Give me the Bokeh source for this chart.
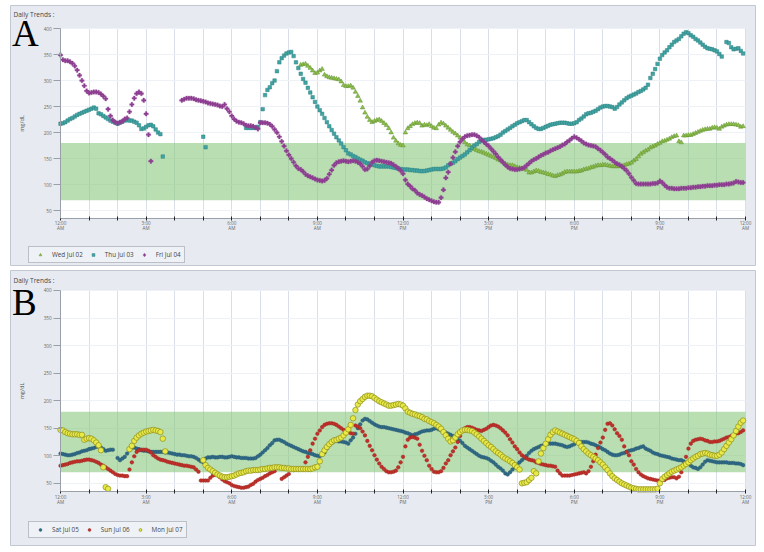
import numpy as np
from bokeh.plotting import figure
from bokeh.layouts import column
from bokeh.models import (Range1d, FixedTicker, BoxAnnotation, Label, Legend,
                          LegendItem, ColumnDataSource, LinearAxis)
from bokeh.embed import file_html
from bokeh.resources import INLINE

N = float("nan")

# time of each reading (minutes after midnight, 5-minute sampling)
MINUTES = list(range(0, 24 * 60, 5))
HOUR_TICKS = list(range(0, 25))
LABEL_HOURS = [0, 3, 6, 9, 12, 15, 18, 21, 24]
X_TICK_TIMES = ["12:00", "3:00", "6:00", "9:00", "12:00", "3:00", "6:00", "9:00", "12:00"]
X_TICK_MERIDIEM = ["AM", "AM", "AM", "AM", "PM", "PM", "PM", "PM", "AM"]
Y_TICKS = [50, 100, 150, 200, 250, 300, 350, 400]
Y_MIN, Y_MAX = 35, 400
TARGET_LOW, TARGET_HIGH = 70, 180

# ---------------- Panel A (mg/dL) ----------------
wed_jul02 = (
    [N] * 96 +
    [N, N, N, N, N, 330, 331, 332, 328, 324, 319, 314] +
    [315, 319, 322, 311, 308, 306, 305, 304, 303, 302, 298, 291] +
    [289, 289, 290, 286, 278, 270, 261, 248, 238, 230, 224, 220] +
    [222, 224, 225, 222, 218, 214, 208, 200, 190, 184, 179, 176] +
    [175, 200, 208, 212, 216, 218, 219, 218, 213, 215, 214, 216] +
    [212, 209, 208, 215, 219, 217, 213, 209, 205, 201, 198, 194] +
    [190, 186, 181, 177, 175, 171, 168, 166, 164, 163, 161, 159] +
    [157, 155, 153, 151, 148, 146, 143, 140, 138, 137, 137, 135] +
    [133, 132, 131, 130, 128, 123, 123, 125, 127, 126, 124, 123] +
    [122, 120, 119, 117, 116, 118, 119, 121, 124, 125, 125, 125] +
    [125, 125, 126, 127, 129, 130, 131, 133, 134, 136, 137, 137] +
    [138, 138, 137, 136, 135, 135, 135, 135, 136, 137, 139, 140] +
    [142, 146, 149, 154, 159, 162, 165, 167, 171, 173, 175, 178] +
    [180, 183, 184, 186, 188, 191, 193, 194, 183, 181, 194, 194] +
    [195, 195, 197, 199, 201, 203, 205, 206, 207, 207, 209, 210] +
    [209, 207, 211, 213, 215, 216, 216, 216, 215, 214, 211, 212]
)

thu_jul03 = (
    [217, 218, 220, 223, 226, 228, 231, 234, 236, 238, 240, 242] +
    [244, 246, 248, 246, 237, 235, 232, 229, 226, 223, 221, 219] +
    [217, 219, 221, 223, 224, 223, 223, 221, 219, 214, 207, 208] +
    [211, 214, 215, 212, 206, 200, 197, 154, N, N, N, N] +
    [N] * 12 +
    [192, 172, N, N, N, N, N, N, N, N, N, N] +
    [N, N, N, N, N, N, 209, 209, 209, 209, 209, 211] +
    [220, 245, 272, 282, 287, 295, 300, 318, 335, 343, 348, 352] +
    [354, 355, 347, 335, 324, 313, 303, 296, 286, 277, 268, 259] +
    [250, 243, 236, 228, 220, 212, 205, 198, 191, 185, 179, 172] +
    [166, 160, 158, 155, 153, 150, 148, 146, 143, 141, 140, 139] +
    [137, 136, 135, 135, 135, 135, 135, 134, 133, 132, 131, 130] +
    [129, 129, 129, 128, 128, 127, 127, 126, 126, 126, 127, 128] +
    [129, 130, 130, 130, 130, 131, 133, 137, 140, 142, 145, 149] +
    [152, 155, 158, 162, 166, 171, 175, 178, 182, 185, 186, 186] +
    [187, 188, 189, 191, 193, 196, 200, 203, 206, 209, 212, 215] +
    [218, 220, 222, 224, 224, 220, 216, 212, 209, 207, 207, 209] +
    [211, 213, 215, 216, 217, 218, 219, 219, 219, 218, 217, 217] +
    [218, 220, 224, 227, 231, 235, 237, 238, 240, 242, 245, 248] +
    [250, 251, 251, 250, 249, 246, 249, 254, 258, 262, 266, 269] +
    [271, 273, 275, 278, 280, 283, 286, 292, 305, 313, 322, 332] +
    [342, 349, 354, 358, 364, 369, 374, 377, 380, 385, 390, 393] +
    [391, 387, 384, 380, 377, 373, 369, 365, 362, 361, 360, 358] +
    [356, 351, 346, N, 374, 372, 364, 360, 361, 362, 357, 352]
)

fri_jul04 = (
    [349, 340, 338, 338, 336, 333, 328, 320, 310, 300, 290, 280] +
    [276, 277, 278, 278, 277, 274, 270, 265, 245, 232, 224, 220] +
    [218, 220, 222, 226, 228, 240, 254, 266, 275, 278, 275, 262] +
    [236, 196, 145, N, N, N, N, N, N, N, N, N] +
    [N, N, N, 262, 264, 266, 266, 266, 265, 263, 262, 261] +
    [260, 259, 257, 256, 255, 254, 253, 251, 250, 254, 246, 240] +
    [232, 226, 222, 220, 219, 217, 214, 213, 213, 212, 210, 207] +
    [219, 219, 219, 218, 216, 212, 206, 200, 192, 183, 174, 165] +
    [157, 150, 143, 136, 131, 129, 125, 120, 117, 115, 113, 111] +
    [109, 108, 107, 108, 112, 120, 128, 137, 142, 144, 145, 146] +
    [145, 144, 145, 146, 145, 143, 140, 135, 129, 130, 136, 143] +
    [146, 147, 146, 145, 144, 143, 142, 141, 138, 135, 131, 127] +
    [121, 109, 101, 97, 92, 89, 84, 81, 79, 76, 73, 71] +
    [69, 67, 66, 66, 75, 90, 113, 124, 140, 152, 163, 174] +
    [182, 188, 192, 194, 195, 196, 196, 194, 191, 186, 182, 178] +
    [174, 169, 164, 159, 153, 148, 143, 138, 134, 131, 130, 129] +
    [129, 130, 131, 133, 137, 141, 145, 148, 150, 153, 156, 158] +
    [161, 162, 165, 167, 169, 171, 173, 176, 178, 182, 185, 189] +
    [192, 190, 187, 184, 180, 178, 176, 175, 174, 173, 169, 166] +
    [162, 158, 153, 150, 147, 143, 140, 138, 135, 131, 127, 121] +
    [114, 108, 102, 101, 101, 101, 101, 101, 101, 102, 102, 103] +
    [107, 104, 99, 95, 93, 93, 92, 92, 92, 93, 93, 93] +
    [94, 94, 95, 95, 96, 96, 97, 97, 98, 98, 98, 99] +
    [99, 100, 100, 100, 101, 101, 102, 103, 106, 105, 104, 104]
)

# ---------------- Panel B (mg/dL) ----------------
sat_jul05 = (
    [104, 103, 102, 101, 101, 102, 103, 105, 106, 108, 109, 110] +
    [112, 113, 114, 116, 117, 115, 112, 109, 110, 111, 111, N] +
    [96, 92, 95, 98, 104, 110, 114, 115, 113, 112, 110, 109] +
    [109, 108, 107, 107, 107, 107, 107, 107, 106, 106, 105, 104] +
    [103, 102, 102, 101, 101, 100, 99, 99, 98, 96, 93, 90] +
    [88, 95, 97, 97, 98, 97, 97, 98, 98, 97, 97, 98] +
    [99, 98, 97, 97, 96, 96, 96, 95, 95, 95, 96, 99] +
    [102, 106, 110, 114, 119, 123, 128, 129, 129, 127, 125, 122] +
    [120, 118, 116, 114, 112, 110, 108, 107, 105, 104, 103, 101] +
    [100, 99, 102, 106, 113, 119, 123, 126, 127, 126, 126, 125] +
    [124, 122, 128, 133, 140, 150, 157, 164, 167, 166, 163, 160] +
    [157, 155, 153, 152, 152, 151, 150, 149, 148, 147, 146, 145] +
    [144, 142, 141, 139, 137, 139, 140, 142, 144, 145, 146, 146] +
    [147, 149, 150, 148, 146, 144, 142, 140, 138, 136, 133, 130] +
    [127, 123, 118, 115, 112, 109, 106, 103, 100, 98, 97, 96] +
    [94, 91, 88, 84, 80, 77, 73, 68, 66, 70, 75, 79] +
    [84, 88, 92, 96, 100, 105, 109, 112, 114, 116, 118, 119] +
    [121, 122, 122, 122, 122, 121, 120, 119, 117, 116, 117, 119] +
    [121, 124, 125, 125, 125, 125, 124, 122, 121, 119, 117, 115] +
    [112, 110, 107, 104, 102, 101, 101, 102, 104, 105, 107, 109] +
    [110, 111, 113, 114, 116, 117, 113, 111, 109, 106, 104, 103] +
    [101, 100, 99, 98, 97, 95, 94, 93, 92, 92, 90, 87] +
    [86, 82, 79, 78, 76, 79, 84, 89, 92, 91, 90, 89] +
    [88, 88, 88, 88, 88, 87, 87, 87, 86, 86, 85, 83]
)

sun_jul06 = (
    [82, 83, 84, 85, 87, 88, 89, 90, 90, 91, 92, 93] +
    [93, 92, 91, 89, 87, 84, 82, 79, 76, 73, 70, 67] +
    [65, 64, 64, 63, 63, 75, 88, 99, 107, 110, 111, 111] +
    [111, 109, 106, 101, 98, 95, 93, 92, 91, 89, 88, 87] +
    [86, 85, 84, 83, 82, 82, 81, 80, 79, 75, 71, 55] +
    [55, 55, 55, 60, 64, 65, 65, 61, 57, 54, 52, 50] +
    [47, 45, 44, 43, 42, 42, 43, 44, 47, 49, 53, 56] +
    [58, 60, 63, 65, 68, 70, 72, 78, N, 58, 61, 64] +
    [67, N, 74, N, 75, N, 76, 88, 98, 110, 122, 131] +
    [140, 146, 152, 156, 158, 159, 159, 158, 156, 153, 150, 147] +
    [145, 143, 141, 140, 155, 153, 150, 144, 137, 127, 118, 110] +
    [101, 93, 86, 80, 76, 72, 70, 70, 71, 73, 79, 88] +
    [98, 117, 129, 133, 134, 133, 131, 120, 109, 100, 92, 82] +
    [76, 71, 70, 70, 72, 78, 86, 92, 101, 108, 115, 125] +
    [136, 145, 150, 152, 152, 151, 149, 147, 146, 145, 147, 149] +
    [152, 155, 156, 155, 153, 150, 146, 142, 137, 130, 124, 117] +
    [112, 106, 101, 98, 95, 93, 92, 91, 88, 87, 85, 84] +
    [83, 82, 82, 81, 80, 73, 68, 64, 64, 64, 64, 65] +
    [66, 67, 68, 69, 70, 68, 72, 80, 90, 102, 114, 124] +
    [133, 147, 158, 159, 155, 148, 141, 136, 129, 117, 107, 101] +
    [90, 84, 76, 70, 66, 63, 61, 59, 58, 57, 56, 55] +
    [55, 56, 56, 59, 60, 61, 61, 59, 62, 70, 82, 98] +
    [113, 122, 127, 129, 130, 131, 130, 128, 127, 125, 125, 126] +
    [126, 127, 129, 131, 133, 134, 136, 137, 140, 141, 143, 146]
)

mon_jul07 = (
    [147, 146, 143, 141, 140, 139, 139, 139, 138, 138, 129, 131] +
    [132, 131, 128, 124, 119, 110, 79, 43, 40, N, N, N] +
    [N, N, N, N, N, 112, 118, 127, 133, 137, 140, 142] +
    [144, 145, 146, 147, 146, 145, 143, 131, 108, N, N, N] +
    [N] * 12 +
    [92, 83, 78, 75, 72, 69, 66, 64, 62, 61, 61, 62] +
    [63, 64, 66, 68, 69, 70, 72, 73, 73, 74, 74, 74] +
    [75, 76, 76, 77, 78, 78, 79, 79, 79, 78, 78, 77] +
    [77, 76, 76, 76, 76, 76, 76, 76, 76, 76, 77, 79] +
    [80, 90, 103, 110, 116, 121, 125, 128, 129, 131, 133, 137] +
    [142, 148, 156, 168, 183, 193, 199, 203, 207, 209, 209, 208] +
    [205, 202, 199, 197, 195, 193, 191, 191, 192, 193, 194, 193] +
    [191, 186, 180, 178, 176, 175, 173, 172, 170, 167, 166, 163] +
    [161, 159, 156, 153, 149, 143, 137, 131, 126, 128, 133, 139] +
    [143, 146, 147, 147, 146, 145, 142, 139, 135, 131, 127, 123] +
    [119, 116, 112, 108, 105, 102, 98, 95, 93, 90, 87, 83] +
    [79, 75, 50, 51, 52, 56, 60, 72, 68, 90, 104, 114] +
    [122, 130, 138, 143, 146, 144, 142, 140, 138, 136, 134, 132] +
    [130, 127, 123, 117, 112, 108, 104, 101, 98, 95, 92, 88] +
    [84, 79, 74, 68, 63, 59, 56, 53, 50, 48, 46, 44] +
    [42, 41, 40, 39, 39, 39, 39, 39, 39, 39, 39, 40] +
    [50, 58, 62, 65, 68, 71, 73, 75, 77, 79, 82, 85] +
    [88, 92, 95, 98, 100, 103, 104, 105, 104, 102, 101, 100] +
    [100, 102, 106, 112, 118, 124, 130, 137, 145, 153, 160, 164]
)

FONT = "Open Sans"
PANEL_BG = "#e7ebf1"
TICK_FONT_SIZE = "4.6px"
W = 764


def make_panel(letter, height, b_top, b_bottom, x_lim, y_lim, series,
               legend_loc, title_y, letter_y):
    # the frame covers the whole grey panel; the white plot area sits inside it
    p = figure(width=W, height=height,
               x_range=Range1d(*x_lim), y_range=Range1d(*y_lim),
               output_backend="svg", toolbar_location=None,
               min_border_left=10, min_border_right=9,
               min_border_top=b_top, min_border_bottom=b_bottom,
               border_fill_color="white", background_fill_color=PANEL_BG,
               outline_line_color="#c2c8d1")

    p.add_layout(BoxAnnotation(left=0, right=24, bottom=Y_MIN, top=Y_MAX,
                               fill_color="white", fill_alpha=1.0,
                               line_color="#c3c8d0", line_width=1, level="image"))
    p.add_layout(BoxAnnotation(left=0, right=24, bottom=TARGET_LOW, top=TARGET_HIGH,
                               fill_color="#86c77a", fill_alpha=0.58,
                               line_color=None, level="underlay"))

    # hour ticks with the clock time
    xa = p.xaxis[0]
    xa.fixed_location = Y_MIN
    xa.bounds = (0, 24)
    xa.ticker = FixedTicker(ticks=HOUR_TICKS)
    times = dict(zip(LABEL_HOURS, X_TICK_TIMES))
    xa.major_label_overrides = {h: times.get(h, "") for h in HOUR_TICKS}
    xa.major_label_text_font = FONT
    xa.major_label_text_font_size = TICK_FONT_SIZE
    xa.major_label_text_color = "#666666"
    xa.major_label_standoff = 0
    xa.axis_line_color = "#9aa0a8"
    xa.major_tick_line_color = "#222222"
    xa.major_tick_in = 2
    xa.major_tick_out = 2
    xa.minor_tick_line_color = None

    # second row of labels: AM / PM
    xm = LinearAxis(fixed_location=Y_MIN, bounds=(0, 24),
                    ticker=FixedTicker(ticks=LABEL_HOURS),
                    major_label_overrides=dict(zip(LABEL_HOURS, X_TICK_MERIDIEM)),
                    major_label_text_font=FONT, major_label_text_font_size=TICK_FONT_SIZE,
                    major_label_text_color="#666666", major_label_standoff=7,
                    axis_line_color=None, major_tick_line_color=None,
                    major_tick_in=0, major_tick_out=0, minor_tick_line_color=None)
    p.add_layout(xm, "below")

    ya = p.yaxis[0]
    ya.fixed_location = 0
    ya.bounds = (Y_MIN, Y_MAX)
    ya.ticker = FixedTicker(ticks=Y_TICKS)
    ya.major_label_text_font = FONT
    ya.major_label_text_font_size = TICK_FONT_SIZE
    ya.major_label_text_color = "#666666"
    ya.major_label_standoff = 2
    ya.axis_line_color = "#9aa0a8"
    ya.major_tick_line_color = "#9aa0a8"
    ya.major_tick_in = 0
    ya.major_tick_out = 7
    ya.minor_tick_line_color = None
    ya.axis_label = "mg/dL"
    ya.axis_label_text_font = FONT
    ya.axis_label_text_font_size = "5.6px"
    ya.axis_label_text_font_style = "normal"
    ya.axis_label_text_color = "#555555"
    ya.axis_label_standoff = 15

    p.xgrid.grid_line_color = "#d9dfe8"
    p.xgrid.cross_bounds = (Y_MIN, Y_MAX)
    p.xgrid.bounds = (0, 24)
    p.ygrid.grid_line_color = "#eef1f5"
    p.ygrid.cross_bounds = (0, 24)
    p.ygrid.bounds = (Y_MIN, Y_MAX)

    x_hours = [m / 60.0 for m in MINUTES]
    items = []
    for name, values, marker, size, fill, line, lw in series:
        src = ColumnDataSource(dict(x=x_hours, y=np.array(values, dtype=float)))
        r = p.scatter("x", "y", source=src, marker=marker, size=size,
                      fill_color=fill, line_color=line, line_width=lw)
        items.append(LegendItem(label=name, renderers=[r]))

    legend = Legend(items=items, orientation="horizontal", location=legend_loc,
                    label_text_font=FONT, label_text_font_size="6.3px",
                    label_text_color="#444444", label_height=7, label_standoff=4,
                    glyph_height=7, glyph_width=16, spacing=2, padding=3, margin=0,
                    border_line_color="#8a8f96", border_line_width=1,
                    background_fill_color="#eef1f6", background_fill_alpha=1.0)
    p.add_layout(legend)

    p.add_layout(Label(x=-1.647, y=title_y, text="Daily Trends :", text_font=FONT,
                       text_font_size="6.5px", text_color="#444444",
                       text_baseline="alphabetic"))
    p.add_layout(Label(x=-1.70, y=letter_y, text=letter, text_font="Liberation Serif",
                       text_font_size="37px", text_color="black",
                       text_baseline="alphabetic"))
    return p


series_a = [
    ("Wed Jul 02", wed_jul02, "triangle", 4.5, "#8dbf4c", "#5f8f2c", 0.5),
    ("Thu Jul 03", thu_jul03, "square", 3.5, "#41a4a3", "#2c8282", 0.5),
    ("Fri Jul 04", fri_jul04, "plus", 4.5, "#8e3f92", "#8e3f92", 0.3),
]
series_b = [
    ("Sat Jul 05", sat_jul05, "circle", 3.6, "#2f6a87", "#245670", 0.5),
    ("Sun Jul 06", sun_jul06, "circle", 3.6, "#c2302a", "#9e231f", 0.5),
    ("Mon Jul 07", mon_jul07, "circle", 5.5, "#e8ea48", "#8e8e1c", 0.7),
]

# panel A: grey panel x 10..755, y 5..265 ; plot area x 60..745, y 28..218
pA = make_panel("A", 267, 5, 2, (-1.752, 24.35), (-55.4, 444.2), series_a,
                (18, 2), 426, 390)
# panel B: grey panel x 10..755, y 270..545 ; plot area x 60..745, y 290..491
pB = make_panel("B", 285, 3, 7, (-1.752, 24.35), (-62.9, 436.3), series_b,
                (18, 7), 417.5, 378)

layout = column(pA, pB, spacing=0)
open("out.html", "w").write(file_html(layout, INLINE))
